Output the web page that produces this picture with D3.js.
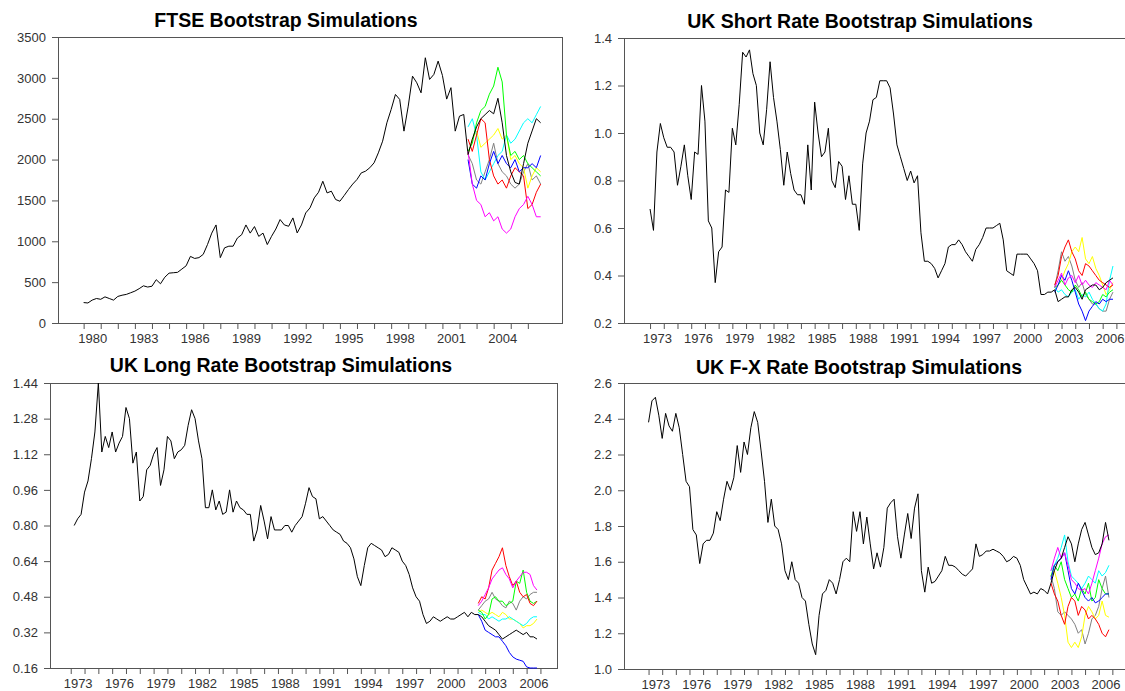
<!DOCTYPE html>
<html><head><meta charset="utf-8">
<script src="https://cdn.jsdelivr.net/npm/d3@7/dist/d3.min.js"></script>
<style>
body{margin:0;background:#fff;}
svg text{font-family:"Liberation Sans",Arial,sans-serif;}
</style></head><body>
<svg id="c" width="1125" height="691"></svg>
<script>
// ---------- data ----------
const STEP = 0.25;           // quarterly observations
const SIM_START = 2002.5;    // simulations begin
const simColors = ["#808080","#ffff00","#00ffff","#00ff00","#ff0000","#0000ff","#ff00ff","#000000"];

const ftseStart = 1980.0;
const ftseHist = [
 250,245,280,300, 290,320,300,280, 325,340,350,370, 390,420,455,440,
 450,530,480,560, 610,615,620,660, 700,815,790,800, 840,960,1100,1200,
 800,920,940,940, 1040,1080,1200,1100, 1180,1060,1100,960, 1061,1150,1266,1200,
 1184,1286,1102,1200, 1347,1409,1531,1600, 1735,1592,1613,1511, 1490,1560,1633,1700,
 1756,1837,1858,1900, 1960,2082,2225,2450, 2613,2797,2736,2348, 2654,3021,2940,2817,
 3246,2981,3042,3205, 3030,2740,2880,2348, 2531,2552,2060];
const ftseSims = [
 [2060,1950,1750,1700,1850,2000,2200,1950,1850,1800,1700,1650,1700,1850,1950,1750,1800,1700],
 [2060,2250,2350,2150,2200,2250,2300,2380,2250,2300,2000,2050,1950,1900,1650,1800,1900,1850],
 [2400,2500,2300,1850,1750,1850,1950,2050,2100,2300,2200,2250,2350,2450,2500,2450,2550,2650],
 [2100,2200,2450,2600,2650,2800,2900,3130,2950,2300,2050,2100,2000,2050,1950,1900,1850,1800],
 [2250,2100,2300,2500,2450,2000,1800,1700,1750,1650,1800,1900,1850,1800,1400,1450,1600,1700],
 [2000,1700,1650,1800,1750,1950,2100,1950,2050,1950,1900,2000,1850,1900,1900,1950,1900,2050],
 [2100,1700,1500,1450,1300,1350,1250,1300,1150,1100,1150,1300,1400,1450,1550,1450,1300,1300],
 [2060,2250,2400,2500,2550,2600,2560,2750,2450,2050,1850,1720,1700,1950,2200,2350,2500,2450]];
const ftseYTicks = [0,500,1000,1500,2000,2500,3000,3500];
const ftseTickYears = d3.range(1980, 2007);
const ftseLabelYears = [1980,1983,1986,1989,1992,1995,1998,2001,2004];

const shortStart = 1973.0;
const shortHist = [
 0.68,0.59,0.92,1.04, 0.98,0.94,0.94,0.92, 0.78,0.86,0.95,0.82, 0.72,0.92,0.91,1.20,
 1.05,0.63,0.60,0.37, 0.50,0.52,0.76,0.75, 1.02,0.95,1.12,1.34, 1.32,1.35,1.25,1.20,
 1.00,0.95,1.10,1.30, 1.15,1.05,0.93,0.78, 0.92,0.83,0.76,0.74, 0.74,0.70,0.95,0.76,
 1.13,1.00,0.90,0.92, 1.02,0.80,0.77,0.88, 0.86,0.72,0.82,0.70, 0.70,0.59,0.87,1.00,
 1.05,1.14,1.15,1.22, 1.22,1.22,1.19,1.08, 0.95,0.90,0.85,0.80, 0.84,0.79,0.82,0.58,
 0.46,0.46,0.45,0.43, 0.39,0.42,0.45,0.52, 0.53,0.53,0.55,0.53, 0.50,0.48,0.46,0.51,
 0.53,0.56,0.60,0.60, 0.60,0.61,0.62,0.55, 0.42,0.41,0.40,0.49, 0.49,0.49,0.49,0.47,
 0.45,0.42,0.32,0.32, 0.33,0.33,0.34];
const shortSims = [
 [0.35,0.42,0.50,0.46,0.48,0.44,0.38,0.35,0.37,0.32,0.30,0.28,0.28,0.26,0.25,0.25,0.30,0.33],
 [0.34,0.36,0.38,0.42,0.45,0.50,0.52,0.50,0.56,0.47,0.45,0.48,0.43,0.40,0.36,0.32,0.34,0.37],
 [0.35,0.33,0.34,0.32,0.31,0.33,0.34,0.30,0.32,0.31,0.33,0.30,0.28,0.26,0.25,0.28,0.38,0.44],
 [0.35,0.36,0.38,0.36,0.34,0.33,0.36,0.34,0.31,0.33,0.30,0.29,0.28,0.29,0.32,0.31,0.33,0.34],
 [0.36,0.40,0.48,0.52,0.55,0.50,0.47,0.42,0.40,0.45,0.44,0.42,0.40,0.38,0.37,0.36,0.35,0.36],
 [0.33,0.36,0.40,0.38,0.42,0.38,0.33,0.28,0.25,0.21,0.25,0.27,0.29,0.28,0.30,0.29,0.30,0.30],
 [0.35,0.38,0.41,0.36,0.39,0.40,0.37,0.40,0.36,0.38,0.36,0.35,0.37,0.36,0.35,0.34,0.38,0.36],
 [0.34,0.29,0.30,0.31,0.31,0.34,0.35,0.33,0.30,0.34,0.35,0.36,0.36,0.34,0.35,0.37,0.38,0.39]];
const shortYTicks = [0.2,0.4,0.6,0.8,1.0,1.2,1.4];

const longStart = 1973.25;
const longHist = [
 0.80,0.83,0.85, 0.95,1.00,1.10,1.22, 1.44,1.13,1.20,1.15, 1.22,1.13,1.17,1.20,
 1.33,1.28,1.08,1.13, 0.91,0.93,1.05,1.07, 1.12,1.15,0.98,1.05, 1.20,1.18,1.10,1.13,
 1.14,1.16,1.25,1.32, 1.28,1.18,1.10,0.88, 0.88,0.96,0.87,0.91, 0.85,0.86,0.96,0.86,
 0.91,0.88,0.87,0.85, 0.85,0.73,0.78,0.89, 0.82,0.74,0.84,0.78, 0.78,0.78,0.80,0.80,
 0.77,0.80,0.82,0.84, 0.90,0.97,0.93,0.92, 0.83,0.84,0.82,0.80, 0.78,0.77,0.76,0.73,
 0.72,0.70,0.65,0.57, 0.53,0.62,0.70,0.72, 0.71,0.70,0.69,0.66, 0.67,0.70,0.69,0.68,
 0.64,0.62,0.58,0.52, 0.48,0.46,0.40,0.36, 0.37,0.39,0.38,0.37, 0.38,0.39,0.38,0.38,
 0.39,0.40,0.41,0.39, 0.41,0.40,0.40];
const longSims = [
 [0.42,0.44,0.46,0.47,0.50,0.47,0.46,0.44,0.43,0.46,0.45,0.42,0.46,0.48,0.47,0.49,0.50,0.50],
 [0.41,0.42,0.41,0.40,0.41,0.40,0.39,0.41,0.40,0.38,0.38,0.37,0.36,0.34,0.35,0.35,0.36,0.38],
 [0.41,0.40,0.40,0.38,0.39,0.38,0.37,0.38,0.38,0.39,0.38,0.37,0.36,0.35,0.36,0.38,0.39,0.39],
 [0.42,0.41,0.38,0.40,0.47,0.48,0.46,0.46,0.44,0.45,0.46,0.55,0.54,0.60,0.50,0.46,0.45,0.46],
 [0.45,0.48,0.47,0.52,0.60,0.63,0.66,0.70,0.62,0.57,0.53,0.55,0.50,0.48,0.49,0.45,0.44,0.46],
 [0.40,0.37,0.33,0.32,0.31,0.30,0.30,0.28,0.26,0.23,0.21,0.20,0.195,0.19,0.165,0.16,0.16,0.16],
 [0.44,0.46,0.49,0.52,0.56,0.58,0.60,0.61,0.58,0.56,0.52,0.55,0.57,0.59,0.59,0.58,0.53,0.51],
 [0.40,0.39,0.37,0.35,0.34,0.33,0.31,0.29,0.30,0.31,0.32,0.33,0.32,0.31,0.32,0.30,0.30,0.29]];
const longYTicks = [0.16,0.32,0.48,0.64,0.80,0.96,1.12,1.28,1.44];

const fxStart = 1973.0;
const fxHist = [
 2.38,2.50,2.52,2.42, 2.29,2.43,2.36,2.33, 2.43,2.35,2.20,2.05, 2.02,1.78,1.75,1.59,
 1.70,1.72,1.72,1.76, 1.88,1.83,1.95,2.05, 2.00,2.07,2.25,2.10, 2.27,2.20,2.35,2.44,
 2.38,2.22,2.05,1.82, 1.95,1.80,1.78,1.70, 1.55,1.50,1.60,1.50, 1.48,1.40,1.38,1.25,
 1.14,1.08,1.30,1.42, 1.44,1.50,1.48,1.42, 1.50,1.60,1.62,1.60, 1.88,1.77,1.88,1.70,
 1.85,1.70,1.56,1.65, 1.57,1.68,1.90,1.93, 1.95,1.74,1.62,1.75, 1.87,1.73,1.90,1.98,
 1.55,1.43,1.57,1.48, 1.49,1.52,1.55,1.63, 1.58,1.58,1.57,1.55, 1.53,1.52,1.54,1.56,
 1.70,1.63,1.64,1.66, 1.66,1.67,1.66,1.65, 1.63,1.60,1.61,1.63, 1.62,1.58,1.50,1.46,
 1.42,1.43,1.42,1.45, 1.44,1.42,1.48];
const fxSims = [
 [1.52,1.45,1.32,1.30,1.32,1.30,1.28,1.25,1.20,1.22,1.14,1.20,1.28,1.30,1.35,1.45,1.52,1.40],
 [1.52,1.55,1.48,1.40,1.30,1.15,1.12,1.15,1.12,1.18,1.30,1.35,1.32,1.28,1.30,1.38,1.30,1.29],
 [1.55,1.58,1.62,1.68,1.75,1.60,1.52,1.50,1.48,1.45,1.48,1.52,1.50,1.48,1.55,1.52,1.54,1.58],
 [1.52,1.58,1.55,1.60,1.50,1.45,1.40,1.42,1.38,1.45,1.42,1.48,1.38,1.40,1.50,1.45,1.42,1.42],
 [1.48,1.42,1.38,1.30,1.25,1.35,1.40,1.38,1.30,1.35,1.33,1.28,1.30,1.28,1.25,1.20,1.18,1.22],
 [1.50,1.58,1.60,1.62,1.65,1.55,1.45,1.42,1.48,1.44,1.40,1.38,1.40,1.37,1.38,1.40,1.42,1.42],
 [1.55,1.62,1.68,1.62,1.65,1.58,1.50,1.48,1.45,1.44,1.45,1.42,1.48,1.55,1.62,1.70,1.74,1.75],
 [1.48,1.55,1.60,1.62,1.68,1.74,1.70,1.60,1.70,1.78,1.82,1.75,1.68,1.64,1.65,1.70,1.82,1.72]];
const fxYTicks = [1.0,1.2,1.4,1.6,1.8,2.0,2.2,2.4,2.6];

const rateTickYears = d3.range(1973, 2008);
const rateLabelYears = [1973,1976,1979,1982,1985,1988,1991,1994,1997,2000,2003,2006];

// ---------- layout ----------
const panels = [
 {title:"FTSE Bootstrap Simulations", start:ftseStart, hist:ftseHist, sims:ftseSims,
  yDom:[0,3500], yTicks:ftseYTicks, fmt:d3.format("d"), xDom:[1978.5,2008.0],
  tickYears:ftseTickYears, labelYears:ftseLabelYears, l:58, r:562, t:37, b:323, tx:286, ty:27},
 {title:"UK Short Rate Bootstrap Simulations", start:shortStart, hist:shortHist, sims:shortSims,
  yDom:[0.2,1.4], yTicks:shortYTicks, fmt:d3.format(".1f"), xDom:[1971.1,2007.7],
  tickYears:rateTickYears, labelYears:rateLabelYears, l:624, r:1126, t:38, b:323, tx:860, ty:28},
 {title:"UK Long Rate Bootstrap Simulations", start:longStart, hist:longHist, sims:longSims,
  yDom:[0.16,1.44], yTicks:longYTicks, fmt:d3.format(".2f"), xDom:[1971.5,2008.2],
  tickYears:rateTickYears, labelYears:rateLabelYears, l:50, r:557, t:383, b:668, tx:281, ty:372},
 {title:"UK F-X Rate Bootstrap Simulations", start:fxStart, hist:fxHist, sims:fxSims,
  yDom:[1.0,2.6], yTicks:fxYTicks, fmt:d3.format(".1f"), xDom:[1971.2,2008.0],
  tickYears:rateTickYears, labelYears:rateLabelYears, l:624, r:1126, t:383, b:669, tx:859, ty:374}
];

const svg = d3.select("#c");
panels.forEach(p => {
  const g = svg.append("g");
  const x = d3.scaleLinear().domain(p.xDom).range([p.l, p.r]);
  const y = d3.scaleLinear().domain(p.yDom).range([p.b, p.t]);

  g.append("text").attr("x", p.tx).attr("y", p.ty).attr("text-anchor","middle")
    .attr("font-size", 19.5).attr("font-weight","bold").attr("fill","#000").text(p.title);

  // y axis
  const ya = g.append("g").attr("transform", `translate(${p.l},0)`)
    .call(d3.axisLeft(y).tickValues(p.yTicks).tickFormat(p.fmt).tickSize(6).tickPadding(6));
  ya.select(".domain").remove();
  ya.selectAll("line").attr("stroke","#555");
  ya.selectAll("text").attr("font-size",13).attr("fill","#333").attr("font-family","Liberation Sans, Arial, sans-serif");

  // x ticks
  const xa = g.append("g").attr("transform", `translate(0,${p.b})`)
    .call(d3.axisBottom(x).tickValues(p.tickYears).tickFormat("").tickSize(6));
  xa.select(".domain").remove();
  xa.selectAll("line").attr("stroke","#555");
  // x labels centred on each labelled year
  const xl = g.append("g").attr("transform", `translate(0,${p.b})`)
    .call(d3.axisBottom(x).tickValues(p.labelYears.map(v => v + 0.5)).tickFormat(v => d3.format("d")(v - 0.5)).tickSize(0).tickPadding(11));
  xl.select(".domain").remove();
  xl.selectAll("text").attr("font-size",13).attr("fill","#333").attr("font-family","Liberation Sans, Arial, sans-serif");

  // frame
  g.append("rect").attr("x", p.l + 0.5).attr("y", p.t + 0.5)
    .attr("width", p.r - p.l).attr("height", p.b - p.t)
    .attr("fill","none").attr("stroke","#555").attr("stroke-width",1);

  // history
  const histLine = d3.line().x((d,i) => x(p.start + i*STEP)).y(d => y(d));
  g.append("path").datum(p.hist).attr("d", histLine)
    .attr("fill","none").attr("stroke","#000").attr("stroke-width",1);

  // simulations
  const simLine = d3.line().x((d,i) => x(SIM_START + i*STEP)).y(d => y(d));
  p.sims.forEach((s, k) => {
    g.append("path").datum(s).attr("d", simLine)
      .attr("fill","none").attr("stroke", simColors[k]).attr("stroke-width",1);
  });
});
</script>
</body></html>
